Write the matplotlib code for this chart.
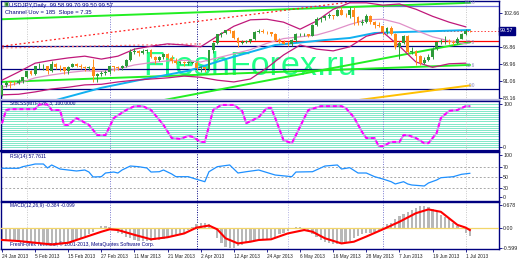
import matplotlib
matplotlib.use("Agg")
import matplotlib.pyplot as plt
import numpy as np

plt.rcParams["font.family"] = ["Liberation Sans", "DejaVu Sans"]

NAVY = "#000080"

# --- USDJPY daily candles, 24 Jan 2013 .. 2 Jul 2013 (bar index = trading day)
opens = [88.6, 90.3, 90.9, 90.8, 90.7, 91.1, 91.7, 92.7, 92.3, 93.6,
         93.6, 93.6, 92.7, 94.0, 93.5, 93.4, 92.7, 93.5, 93.9, 93.6,
         93.5, 93.2, 93.4, 91.9, 92.2, 92.5, 92.6, 93.6, 93.4, 93.2,
         93.6, 94.6, 96.0, 96.2, 95.9, 96.1, 96.4, 95.2, 94.6, 95.2,
         95.6, 95.0, 94.5, 94.2, 94.3, 94.2, 94.2, 94.2, 93.2, 93.4,
         93.1, 96.3, 97.6, 99.0, 99.3, 99.7, 99.6, 98.4, 97.6, 97.7,
         97.9, 98.2, 99.5, 99.6, 99.5, 99.4, 99.1, 98.1, 97.8, 97.4,
         97.3, 98.0, 99.0, 99.0, 99.0, 98.8, 100.6, 101.6, 101.8, 102.2,
         102.3, 102.2, 103.2, 102.4, 102.3, 103.2, 101.9, 101.0, 101.2, 102.1,
         101.2, 100.7, 100.4, 99.5, 100.1, 99.1, 96.9, 97.5, 98.7, 96.0,
         96.1, 95.3, 94.1, 94.6, 95.2, 96.5, 97.7, 97.9, 97.9, 97.7,
         97.5, 98.3, 99.1, 99.6]
highs = [90.4, 91.0, 91.1, 91.0, 91.4, 91.8, 92.8, 92.9, 93.7, 94.1,
         94.0, 93.7, 94.5, 94.1, 93.8, 93.5, 93.6, 94.1, 94.2, 94.0,
         93.7, 93.6, 94.8, 92.5, 92.7, 92.9, 93.7, 93.7, 93.6, 93.8,
         94.8, 96.6, 96.7, 96.4, 96.6, 96.5, 96.6, 95.3, 95.3, 95.8,
         95.8, 95.5, 95.0, 94.5, 94.4, 94.4, 94.3, 94.4, 93.6, 93.5,
         96.4, 97.8, 99.0, 99.4, 99.8, 99.9, 99.7, 98.5, 98.0, 98.0,
         98.3, 99.6, 99.9, 99.9, 99.6, 99.5, 99.2, 98.4, 98.0, 97.9,
         98.2, 99.2, 99.2, 99.3, 99.1, 100.8, 101.9, 102.0, 102.3, 102.7,
         102.4, 103.3, 103.7, 102.7, 103.7, 103.7, 102.2, 101.6, 102.5, 102.3,
         101.3, 101.1, 100.5, 100.2, 100.4, 99.3, 97.9, 98.9, 98.9, 96.8,
         96.3, 95.5, 95.1, 95.6, 96.8, 97.9, 98.3, 98.7, 98.2, 98.1,
         98.6, 99.2, 100.0, 99.7]
lows = [88.5, 90.1, 89.8, 90.3, 90.6, 90.8, 91.5, 92.0, 92.1, 93.1,
        93.0, 92.3, 92.6, 93.1, 92.7, 92.2, 92.2, 93.4, 93.5, 93.1,
        92.8, 92.9, 90.9, 90.9, 91.9, 92.0, 92.3, 92.7, 93.0, 92.9,
        93.5, 94.4, 95.7, 95.4, 95.7, 95.9, 95.0, 94.0, 94.4, 94.9,
        94.9, 94.2, 93.9, 93.9, 93.6, 93.8, 94.0, 92.9, 92.6, 92.6,
        92.9, 95.8, 97.4, 98.5, 99.0, 99.3, 98.3, 96.8, 97.3, 97.5,
        97.5, 98.0, 99.2, 99.2, 99.0, 98.8, 97.9, 97.6, 97.3, 97.1,
        97.1, 97.7, 98.7, 98.7, 98.6, 98.7, 100.5, 101.1, 101.4, 101.8,
        101.7, 102.1, 102.3, 102.0, 101.8, 100.6, 100.7, 100.7, 101.0, 100.8,
        100.1, 100.3, 98.9, 99.1, 98.9, 96.5, 94.9, 97.4, 95.9, 95.7,
        93.8, 93.8, 93.9, 94.4, 94.9, 96.3, 97.4, 97.3, 97.3, 97.2,
        97.4, 98.2, 98.9, 99.4]
closes = [90.3, 90.8, 90.8, 90.7, 91.1, 91.7, 92.7, 92.3, 93.6, 93.6,
          93.6, 92.7, 94.0, 93.5, 93.4, 92.7, 93.5, 93.9, 93.6, 93.5,
          93.2, 93.4, 91.9, 92.2, 92.5, 92.6, 93.6, 93.4, 93.2, 93.6,
          94.6, 96.0, 96.2, 95.9, 96.1, 96.4, 95.2, 94.6, 95.2, 95.6,
          95.0, 94.5, 94.2, 94.3, 94.2, 94.2, 94.2, 93.2, 93.4, 93.1,
          96.3, 97.6, 99.0, 99.3, 99.7, 99.6, 98.4, 97.6, 97.7, 97.9,
          98.2, 99.5, 99.6, 99.5, 99.4, 99.1, 98.1, 97.8, 97.4, 97.3,
          98.0, 99.0, 99.0, 99.0, 98.8, 100.6, 101.6, 101.8, 102.2, 102.3,
          102.2, 103.2, 102.4, 102.3, 103.2, 101.9, 101.0, 101.2, 102.1, 101.2,
          100.7, 100.4, 99.5, 100.1, 99.1, 96.9, 97.5, 98.7, 96.0, 96.1,
          95.3, 94.1, 94.6, 95.2, 96.5, 97.7, 97.9, 97.9, 97.7, 97.5,
          98.3, 99.1, 99.6, 99.57]

date_bars = [0, 8, 16, 24, 32, 40, 48, 56, 64, 72, 80, 88, 96, 104, 112]
date_labels = ["24 Jan 2013", "5 Feb 2013", "15 Feb 2013", "27 Feb 2013",
               "11 Mar 2013", "21 Mar 2013", "2 Apr 2013", "12 Apr 2013",
               "24 Apr 2013", "6 May 2013", "16 May 2013", "28 May 2013",
               "7 Jun 2013", "19 Jun 2013", "1 Jul 2013"]
month_bars = [6, 26, 47, 69, 92, 112]
month_colors = ["#c8c8c8", "#7878d0", "#000080", "#b4b4e4", "#7878d0", "#c8c8c8"]

# --- main-window overlays
band_bars = list(range(0, 113, 4))
band_upper = [91.2, 92.6, 94.1, 94.6, 95.0, 95.3, 94.8, 95.3, 96.5, 97.0,
              97.4, 97.2, 96.9, 98.7, 100.4, 101.5, 101.6, 101.1, 99.9, 101.3,
              103.3, 104.4, 104.4, 104.0, 104.2, 103.3, 102.1, 101.1, 100.3]
band_mid = [90.0, 90.7, 91.6, 92.1, 92.5, 92.8, 92.7, 93.1, 93.8, 94.2,
            94.5, 94.6, 94.3, 95.0, 95.7, 96.4, 97.5, 98.3, 98.6, 98.9,
            99.7, 100.7, 101.5, 101.6, 100.9, 99.7, 98.6, 97.9, 97.4]
band_lower = [88.7, 88.8, 89.2, 89.7, 90.0, 90.4, 90.5, 90.9, 91.2, 91.4,
              91.6, 91.9, 91.7, 91.2, 90.9, 91.4, 93.3, 95.5, 97.2, 96.5,
              96.2, 96.9, 98.7, 99.4, 97.0, 94.3, 93.4, 94.0, 94.1]
ma_bars = [13, 24, 33, 45, 55, 66, 78, 84, 90, 96, 106, 113]
ma_vals = [87.8, 89.9, 91.2, 92.8, 95.0, 97.2, 98.05, 98.4, 99.25, 99.4, 99.6, 99.76]

chan_top = ([0, 113], [101.6, 104.4])
chan_bot = ([0, 113], [90.9, 93.8])
trend_up = ([39, 113], [87.8, 97.7])
trend_gold = ([86, 113], [87.8, 90.3])
trend_red_dot = ([0, 87], [97.0, 104.8])
trend_pink_dot = ([0, 48], [96.7, 97.4])
level_red = ([51, 120], [97.9, 97.9])
last_price = 99.57

fibo_levels = [103.85, 97.1, 93.1, 89.7]
fibo_labels = ["100.0", "50.0", "23.6", "0.0"]
fibo_colors = ["#6a6ad8", NAVY, NAVY, NAVY]

price_ticks = [102.66, 96.86, 93.96, 91.06, 88.16]

# --- oscillator windows
stoch_bars = [0, 1, 2, 8, 9, 11, 12, 14, 15, 16, 18, 21, 23, 25, 27, 30, 32, 34, 36, 39,
              41, 43, 45, 46, 48, 49, 51, 53, 56, 58, 59, 62, 64, 65, 66, 68, 70, 71, 73, 74,
              77, 82, 83, 85, 87, 88, 90, 91, 92, 94, 96, 97, 98, 100, 102, 103, 105, 106,
              108, 110, 112, 113]
stoch_vals = [56, 87, 89, 89, 100, 100, 87, 87, 52, 52, 68, 52, 28, 28, 68, 87, 96, 96, 87, 52,
              21, 19, 26, 24, 12, 12, 87, 99, 99, 85, 56, 70, 92, 92, 68, 16, 9, 28, 68, 87,
              96, 96, 92, 70, 35, 21, 21, 2, 2, 12, 12, 28, 28, 21, 9, 9, 33, 68,
              85, 87, 96, 96]

rsi_bars = [0, 4, 5, 7, 8, 10, 11, 12, 14, 16, 18, 20, 21, 22, 24, 25, 27, 28, 29, 31,
            33, 35, 36, 38, 39, 41, 42, 45, 47, 49, 50, 52, 55, 57, 59, 62, 66, 70, 71, 75,
            78, 81, 82, 84, 86, 88, 90, 92, 94, 95, 97, 98, 99, 102, 103, 105, 106, 109, 111, 113]
rsi_vals = [67.4, 67.4, 70.5, 73.8, 75.7, 75.7, 68.0, 73.8, 66.0, 64.1,
            62.2, 64.1, 60.2, 50.6, 51.2, 58.3, 60.2, 58.3, 64.1, 71.8,
            70.5, 68.0, 60.2, 60.8, 64.1, 56.4, 51.2, 51.2, 46.1, 41.5,
            60.8, 70.5, 73.8, 58.3, 60.8, 64.1, 54.4, 51.2, 60.2, 60.8,
            71.8, 73.8, 66.0, 68.6, 58.3, 58.3, 51.2, 46.7, 41.5, 37.1,
            41.5, 37.1, 35.1, 33.2, 39.0, 44.8, 49.2, 51.2, 55.8, 57.7]

macd_hist = [-0.33, -0.35, -0.36, -0.38, -0.38, -0.40, -0.41, -0.43, -0.44, -0.46,
             -0.47, -0.46, -0.45, -0.44, -0.43, -0.42, -0.40, -0.37, -0.33, -0.29,
             -0.22, -0.17, -0.10, -0.03, 0.07, 0.07, 0.05, -0.05, -0.14, -0.16,
             -0.24, -0.28, -0.34, -0.36, -0.37, -0.36, -0.36, -0.35, -0.34, -0.32,
             -0.28, -0.25, -0.21, -0.17, -0.13, -0.05, 0.05, 0.12, 0.15, 0.16,
             0.13, -0.03, -0.29, -0.44, -0.53, -0.58, -0.56, -0.51, -0.48, -0.44,
             -0.39, -0.37, -0.34, -0.32, -0.32, -0.29, -0.24, -0.16, -0.13, -0.07,
             -0.03, 0.03, 0.05, 0.02, -0.05, -0.16, -0.26, -0.34, -0.40, -0.44,
             -0.46, -0.46, -0.44, -0.40, -0.36, -0.29, -0.22, -0.16, -0.14, -0.13,
             -0.10, -0.05, 0.05, 0.12, 0.16, 0.26, 0.36, 0.41, 0.46, 0.52,
             0.58, 0.65, 0.66, 0.63, 0.55, 0.48, 0.39, 0.32, 0.26, 0.16,
             0.07, -0.03, -0.13, -0.22]
signal_bars = [0, 4, 8, 12, 16, 20, 24, 26, 28, 32, 36, 40, 44, 47, 50, 52, 54, 57, 60, 62,
               65, 69, 73, 75, 78, 82, 85, 88, 92, 96, 100, 103, 106, 108, 110, 112, 113]
signal_vals = [-0.34, -0.37, -0.42, -0.47, -0.42, -0.26, -0.10, -0.03, -0.05, -0.19,
               -0.32, -0.26, -0.15, 0.02, 0.08, -0.03, -0.29, -0.44, -0.39, -0.34,
               -0.32, -0.15, -0.05, -0.10, -0.29, -0.44, -0.39, -0.24, -0.03, 0.19,
               0.44, 0.55, 0.48, 0.29, 0.10, 0.02, -0.05]


fig = plt.figure(figsize=(5.2, 2.6), dpi=100)


def panel(top, bottom):
    ax = fig.add_axes([1 / 520, 1 - bottom / 260, 498 / 520, (bottom - top) / 260])
    ax.set_xlim(-0.24, 120.05)
    ax.set_xticks([])
    ax.yaxis.tick_right()
    ax.tick_params(axis="y", direction="out", length=2, width=0.6, color=NAVY,
                   labelsize=3.8, pad=1, labelcolor="#202020")
    for s in ax.spines.values():
        s.set_color(NAVY)
        s.set_linewidth(1.0)
    for b, c in zip(month_bars, month_colors):
        ax.axvline(b, color=c, ls=(0, (1, 1.5)), lw=0.7, zorder=1)
    return ax


main = panel(1, 100)
stoch = panel(101, 151)
rsi = panel(152, 201)
macd = panel(202, 249)

# main window
main.set_ylim(87.82, 104.71)
main.spines["bottom"].set_color("#b8b8e0")
main.spines["bottom"].set_linewidth(1.6)
main.set_yticks(price_ticks)
main.set_yticklabels([f"{v:.2f}" for v in price_ticks])

main.text(0.5, 0.335, "FreshForex.ru", transform=main.transAxes, ha="center", va="center",
          fontsize=24.5, color="#22ff88", zorder=1.5)

for lvl, lab, col in zip(fibo_levels, fibo_labels, fibo_colors):
    main.axhline(lvl, color=col, lw=0.9, zorder=2)
    main.text(114.3, lvl + 0.12, lab, fontsize=3.4, color="#8888bb", ha="right", va="bottom")

main.plot(*chan_top, color="#22ee22", lw=1.4, zorder=2)
main.plot(*chan_bot, color="#22ee22", lw=1.4, zorder=2)
main.plot(*trend_up, color="#22ee22", lw=1.4, zorder=2)
main.plot(*trend_gold, color="#ffc000", lw=1.4, zorder=2)
main.plot(*trend_red_dot, color="#ff2020", lw=0.9, ls=(0, (1.5, 2)), zorder=2)
main.plot(*trend_pink_dot, color="#ff7070", lw=0.9, ls=(0, (1.5, 2)), zorder=2)
main.plot(*level_red, color="#ff0000", lw=0.9, zorder=2)
main.plot([104, 120], [last_price, last_price], color="#ff4040", lw=0.7, ls=(0, (1.5, 2)), zorder=2)
main.plot(ma_bars, ma_vals, color="#10b0f0", lw=1.4, zorder=2)
main.plot(band_bars, band_upper, color="#c0187a", lw=0.9, zorder=3)
main.plot(band_bars, band_lower, color="#c0187a", lw=0.9, zorder=3)
main.plot(band_bars, band_mid, color="#e090c8", lw=0.9, zorder=3)

x = np.arange(len(closes))
o = np.array(opens)
c = np.array(closes)
cols = np.where(c >= o, "#2e9a3a", "#ff8c1a")
main.vlines(x, lows, highs, colors=cols, lw=0.7, zorder=4)
main.bar(x, np.maximum(np.abs(c - o), 0.07), bottom=np.minimum(o, c), width=0.7,
         color=cols, lw=0, zorder=5)

fig.text(3 / 520, 1 - 5 / 260, "\u25a3", fontsize=4, color="#208020", va="center")
fig.text(9 / 520, 1 - 5 / 260, "USDJPY,Daily  99.58 99.70 99.50 99.57", fontsize=4.2,
         color=NAVY, va="center")
fig.text(5 / 520, 1 - 12.5 / 260, "Channel Uov = 185  Slope = 7.35", fontsize=4.2,
         color=NAVY, va="center")
fig.text(500 / 520, 1 - 31 / 260, "99.57", fontsize=3.8, color="white", va="center",
         bbox=dict(boxstyle="square,pad=0.25", fc=NAVY, ec=NAVY))

# stochastic-type window
stoch.set_ylim(-9.4, 108.2)
for lvl in range(0, 101, 5):
    stoch.axhline(lvl, color="#80e8c8", lw=0.7, zorder=0.5)
stoch.set_yticks([100, 0])
stoch.set_yticklabels(["100", "0"])
stoch.plot(stoch_bars, stoch_vals, color="#d890f0", lw=1.4, zorder=3)
stoch.plot(stoch_bars, stoch_vals, color="#ff00ff", lw=1.4, ls=(0, (2, 1.5)), zorder=4)
stoch.text(2, 102, "StoLSS(MTF) 28, 3, 100.0000", fontsize=3.5, color=NAVY, va="center")
stoch.spines["bottom"].set_linewidth(1.6)

# RSI window
rsi.set_ylim(4.2, 98.9)
for lvl in (70, 50, 30):
    rsi.axhline(lvl, color="#a8a8a8", lw=0.7, ls=(0, (2, 2)), zorder=1)
rsi.set_yticks([92.5, 70, 50, 30, 12])
rsi.set_yticklabels(["100", "70", "50", "30", "0"])
rsi.plot(rsi_bars, rsi_vals, color="#1e90ff", lw=0.9, zorder=3)
rsi.text(2, 90, "RSI(14) 57.7611", fontsize=3.6, color=NAVY, va="center")

# MACD window
macd.set_ylim(-0.602, 0.765)
macd.bar(x, macd_hist, width=0.55, color="#b8b8b8", zorder=2)
macd.axhline(0, color="#f2d66a", lw=0.9, zorder=3)
macd.plot(signal_bars, signal_vals, color="#ff0000", lw=1.5, zorder=4)
macd.set_yticks([0.678, 0, -0.566])
macd.set_yticklabels(["0.678", "0.00", "-0.599"])
macd.text(2, 0.66, "MACD(12,26,9) -0.384 -0.099", fontsize=3.5, color=NAVY, va="center")
macd.text(2, -0.45, "FreshForex Terminal, \u00a9 2001-2013, MetaQuotes Software Corp.",
          fontsize=3.6, color=NAVY, va="center")
macd.set_xticks(date_bars)
macd.set_xticklabels(date_labels, ha="left", fontsize=3.4, color="#202020")
macd.tick_params(axis="x", direction="out", length=2, width=0.6, color=NAVY, pad=1.5)

fig.savefig("out.png", dpi=100)
